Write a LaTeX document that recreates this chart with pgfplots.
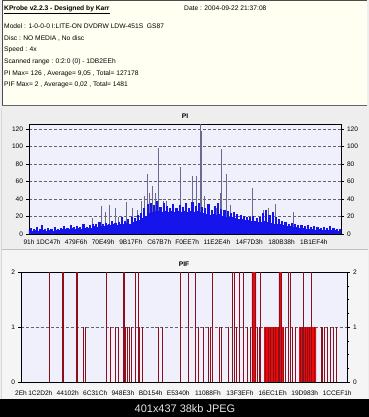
\documentclass[border=0pt]{standalone}
\usepackage{fontspec}
\setmainfont{Liberation Sans}
\usepackage{pgfplots}
\pgfplotsset{compat=1.18}
\definecolor{cream}{RGB}{255,255,242}
\definecolor{panelA}{RGB}{238,238,238}
\definecolor{panelB}{RGB}{245,245,245}
\definecolor{plotbg}{RGB}{240,240,252}
\definecolor{piblue}{RGB}{20,20,235}
\definecolor{spike}{RGB}{105,105,145}
\definecolor{pifdark}{RGB}{140,15,25}
\definecolor{pifred}{RGB}{235,10,10}
\definecolor{gridc}{RGB}{100,100,100}
\newcommand{\sm}{\fontsize{6.6}{7}\selectfont}
\pgfplotsset{
  kp/.style={scale only axis, anchor=south west,
    tick label style={font=\sm},
    /pgf/number format/assume math mode=true,
    axis line style={black, line width=0.6bp},
    tick align=outside, major tick length=2.5bp,
    tick style={black, line width=0.5bp},
    xtick style={draw=none},
    clip=true},
}
\begin{document}
\begin{tikzpicture}[x=1bp,y=1bp]
\useasboundingbox (0,0) rectangle (369,417);
% panels
\fill[panelA] (0,18) rectangle (369,417);
\fill[cream] (2,312) rectangle (367,416);
\draw[black!70, line width=0.8bp] (2.5,312) -- (2.5,416.5) -- (367,416.5);
\draw[black!60, line width=0.8bp] (2.5,312) -- (367,312);
\fill[panelB] (1,18) rectangle (368,167);
\draw[black!25, line width=0.8bp] (1,168) -- (368,168);
\draw[black!15, line width=0.6bp] (1.5,18) -- (1.5,309);
\fill[black] (0,0) rectangle (369,18);
\node[text=black!10, font=\fontsize{11}{12}\selectfont, anchor=center] at (185,8.5) {401x437 38kb JPEG};
% header text
\begin{scope}[every node/.style={anchor=base west, inner sep=0pt, font=\fontsize{6.7}{8}\selectfont}]
\node at (4,406.3) {\textbf{\underline{KProbe v2.2.3 - Designed by Karr}}};
\node at (184,406.3) {Date : 2004-09-22 21:37:08};
\node at (4,388.5) {Model : 1-0-0-0 I:LITE-ON DVDRW LDW-451S\ \ GS87};
\node at (4,376.8) {Disc : NO MEDIA , No disc};
\node at (4,365.2) {Speed : 4x};
\node at (4,353.6) {Scanned range : 0:2:0 (0) - 1DB2EEh};
\node at (4,342.0) {PI Max= 126 , Average= 9,05 , Total= 127178};
\node at (4,330.5) {PIF Max= 2 , Average= 0,02 , Total= 1481};
\end{scope}
\node[font=\bfseries\fontsize{6.7}{8}\selectfont] at (185,301) {PI};
\node[font=\bfseries\fontsize{6.7}{8}\selectfont] at (184,153) {PIF};
% ---------------- PI ----------------
\begin{axis}[kp, at={(29bp,183bp)}, width=312bp, height=110bp,
  xmin=0, xmax=1946.35, ymin=0, ymax=126,
  ytick={0,20,40,60,80,100,120}, ytick pos=left,
  ymajorgrids, grid style={densely dashed, gridc, line width=0.45bp},
  axis background/.style={fill=plotbg},
  xtick={0.145,121.927,293.366,462.409,635.263,812.983,986.855,1172.196,1374.163,1575.736,1777.396},
  xticklabels={91h,1DC47h,479F6h,70E49h,9B17Fh,C67B7h,F0EE7h,11E2E4h,14F7D3h,180B38h,1B1EF4h},
  xticklabel style={yshift=0.5bp}]
\addplot[ycomb, spike, line width=0.7bp, mark=none] coordinates {
(395,18)(453,32)(474,25)(499,33)(536,30)(557,20)(605,37)(647,30)(678,27)
(703,38)(719,43)(740,69)(753,47)(771,55)(786,47)(809,99)(838,38)(859,38)
(942,77)(975,30)(1021,67)(1046,67)(1067,126)(1077,118)(1092,43)
(1171,30)(1192,47)(1202,97)(1233,69)(1254,33)(1395,53)(1462,28)(1493,30)(1535,34)(1649,25)};
\addplot[ycomb, piblue, line width=2.15bp, mark=none] coordinates {
(0,5)(10,7)(20,4)(30,6)(40,5)(50,8)(60,4)(70,6)(80,10)(90,5)
(100,6)(110,4)(120,7)(130,5)(140,6)(150,4)(160,8)(170,5)(180,6)(190,5)
(200,7)(210,6)(220,9)(230,6)(240,7)(250,6)(260,10)(270,7)(280,8)(290,6)
(300,9)(310,7)(320,8)(330,6)(340,11)(350,7)(360,8)(370,7)(380,10)(390,7)
(400,12)(410,9)(420,11)(430,8)(440,14)(450,9)(460,12)(470,9)(480,13)(490,10)
(500,12)(510,10)(520,15)(530,11)(540,13)(550,10)(560,14)(570,11)(580,19)(590,12)
(600,15)(610,13)(620,17)(630,12)(640,20)(650,14)(660,18)(670,15)(680,22)(690,16)
(700,24)(710,18)(720,30)(730,21)(740,34)(750,24)(760,36)(770,25)(780,33)(790,26)
(800,38)(810,26)(820,31)(830,25)(840,35)(850,26)(860,32)(870,25)(880,30)(890,26)
(900,34)(910,25)(920,30)(930,26)(940,33)(950,25)(960,31)(970,26)(980,35)(990,25)
(1000,30)(1010,26)(1020,37)(1030,25)(1040,32)(1050,26)(1060,36)(1070,25)(1080,31)(1090,24)
(1100,30)(1110,23)(1120,34)(1130,22)(1140,28)(1150,23)(1160,32)(1170,22)(1180,36)(1190,23)
(1200,29)(1210,21)(1220,27)(1230,20)(1240,26)(1250,20)(1260,24)(1270,19)(1280,25)(1290,18)
(1300,23)(1310,17)(1320,22)(1330,17)(1340,21)(1350,16)(1360,20)(1370,16)(1380,19)(1390,15)
(1400,21)(1410,15)(1420,18)(1430,14)(1440,20)(1450,14)(1460,24)(1470,15)(1480,27)(1490,14)
(1500,22)(1510,13)(1520,25)(1530,12)(1540,20)(1550,12)(1560,17)(1570,11)(1580,15)(1590,10)
(1600,14)(1610,9)(1620,12)(1630,9)(1640,13)(1650,8)(1660,11)(1670,8)(1680,10)(1690,7)
(1700,10)(1710,7)(1720,9)(1730,6)(1740,10)(1750,6)(1760,8)(1770,6)(1780,9)(1790,5)
(1800,8)(1810,6)(1820,7)(1830,5)(1840,8)(1850,5)(1860,7)(1870,5)(1880,9)(1890,5)
(1900,7)(1910,5)(1920,6)(1930,4)(1940,6)(1946,4)};
\end{axis}
\begin{axis}[kp, at={(29bp,183bp)}, width=312bp, height=110bp,
  xmin=0, xmax=1946.35, ymin=0, ymax=126,
  ytick={0,20,40,60,80,100,120}, ytick pos=right, yticklabel pos=right,
  xtick=\empty, axis line style={draw=none}]
\end{axis}
% ---------------- PIF ----------------
\begin{axis}[kp, at={(21bp,35bp)}, width=326bp, height=110bp,
  xmin=0, xmax=1946.35, ymin=0, ymax=2,
  ytick={0,1,2}, ytick pos=left,
  ymajorgrids, grid style={densely dashed, gridc, line width=0.45bp},
  axis background/.style={fill=plotbg},
  xtick={0.046,115.41,278.786,443.164,608.483,774.484,938.816,1116.303,1307.631,1502.238,1694.083,1887.969},
  xticklabels={2Eh,1C2D2h,44102h,6C31Ch,948E3h,BD154h,E5340h,11088Fh,13F3EFh,16EC1Eh,19D983h,1CCEF1h},
  xticklabel style={yshift=-3bp}]
\addplot[fill=pifred, draw=none] coordinates {(1452,0)(1452,1)(1569,1)(1569,0)} \closedcycle;
\addplot[fill=pifred, draw=none] coordinates {(1660,0)(1660,1)(1762,1)(1762,0)} \closedcycle;
\addplot[fill=pifred, draw=none] coordinates {(1378,0)(1378,2)(1404,2)(1404,0)} \closedcycle;
\addplot[fill=pifred, draw=none] coordinates {(1539,0)(1539,2)(1557,2)(1557,0)} \closedcycle;
\addplot[ycomb, pifdark, line width=0.8bp, mark=none] coordinates {
(169,2)(248,2)(256,2)(328,2)(334,2)(510,2)(614,2)(620,2)(683,2)(701,2)
(953,2)(1001,2)(1041,2)(1142,2)(1261,2)(1273,2)(1301,2)(1327,2)(1384,2)(1401,2)
(1430,2)(1541,2)(1555,2)(1595,2)(1611,2)(1688,2)(1736,2)
(371,1)(383,1)(536,1)(562,1)(584,1)(610,1)(622,1)(634,1)(645,1)(657,1)
(709,1)(723,1)(818,1)(842,1)(1061,1)(1090,1)(1120,1)(1132,1)(1182,1)(1196,1)
(1241,1)(1289,1)(1354,1)(1368,1)(1414,1)(1424,1)(1460,1)(1475,1)(1490,1)(1505,1)
(1520,1)(1534,1)(1566,1)(1578,1)(1623,1)(1639,1)(1668,1)(1682,1)(1696,1)(1710,1)
(1724,1)(1752,1)(1791,1)(1800,1)(1811,1)(1831,1)(1847,1)(1867,1)(1885,1)};
\end{axis}
\begin{axis}[kp, at={(21bp,35bp)}, width=326bp, height=110bp,
  xmin=0, xmax=1946.35, ymin=0, ymax=2,
  ytick={0,1,2}, ytick pos=right, yticklabel pos=right,
  minor y tick num=3, minor tick length=2bp,
  xtick=\empty, axis line style={draw=none}]
\end{axis}
\end{tikzpicture}
\end{document}
